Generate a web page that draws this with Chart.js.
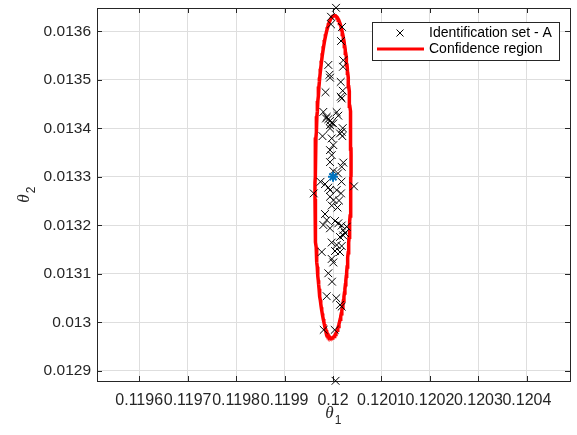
<!DOCTYPE html>
<html>
<head>
<meta charset="utf-8">
<script src="https://cdn.jsdelivr.net/npm/chart.js@4/dist/chart.umd.min.js"></script>
<style>
  html, body { margin: 0; padding: 0; background: #ffffff; }
  #wrap { width: 577px; height: 435px; }
</style>
</head>
<body>
<div id="wrap"><canvas id="chart" width="577" height="435"></canvas></div>
<script>
// Identified parameter pairs (theta1, theta2)
const theta1 = [
  0.1200062, 0.1199959, 0.1199959, 0.1200186, 0.1200165, 0.1200212, 0.1200206, 0.1199903,
  0.1199928, 0.1199938, 0.1200159, 0.1199845, 0.1200200, 0.1200159, 0.1200179, 0.1199800,
  0.1200076, 0.1200109, 0.1199870, 0.1199903, 0.1199938, 0.1199856, 0.1199938, 0.1200006,
  0.1200200, 0.1199973, 0.1199938, 0.1200179, 0.1199783, 0.1199973, 0.1200144, 0.1200192,
  0.1200006, 0.1199938, 0.1199973, 0.1199938, 0.1200212, 0.1200179, 0.1200006, 0.1200103,
  0.1199742, 0.1199835, 0.1199903, 0.1199938, 0.1200175, 0.1200433, 0.1199602, 0.1200076,
  0.1200165, 0.1199938, 0.1200010, 0.1200124, 0.1199973, 0.1200093, 0.1199835, 0.1199870,
  0.1200041, 0.1200109, 0.1200179, 0.1199800, 0.1200282, 0.1199938, 0.1200212, 0.1200247,
  0.1200212, 0.1200144, 0.1199973, 0.1200076, 0.1200179, 0.1200144, 0.1199767, 0.1200041,
  0.1199973, 0.1200006, 0.1199903, 0.1199979, 0.1199870, 0.1200068, 0.1200144, 0.1200179,
  0.1199808, 0.1200035, 0.1200052
];
const theta2 = [
  0.0136484, 0.0136299, 0.0136144, 0.0136089, 0.0135800, 0.0135403, 0.0135269, 0.0135306,
  0.0135104, 0.0135043, 0.0134956, 0.0134744, 0.0134775, 0.0134651, 0.0134614, 0.0134338,
  0.0134332, 0.0134260, 0.0134236, 0.0134188, 0.0134153, 0.0134203, 0.0134065, 0.0134100,
  0.0134003, 0.0134112, 0.0133997, 0.0133927, 0.0133838, 0.0133791, 0.0133894, 0.0133838,
  0.0133653, 0.0133550, 0.0133447, 0.0133303, 0.0133293, 0.0133206, 0.0133118, 0.0133070,
  0.0132897, 0.0132850, 0.0132778, 0.0132726, 0.0132901, 0.0132803, 0.0132658, 0.0132726,
  0.0132658, 0.0132588, 0.0132520, 0.0132510, 0.0132407, 0.0132366, 0.0132232, 0.0132109,
  0.0132088, 0.0132041, 0.0131995, 0.0132006, 0.0131971, 0.0131938, 0.0131903, 0.0131841,
  0.0131790, 0.0131759, 0.0131645, 0.0131594, 0.0131573, 0.0131450, 0.0131450, 0.0131470,
  0.0131306, 0.0131234, 0.0131011, 0.0130838, 0.0130538, 0.0130497, 0.0130359, 0.0130324,
  0.0129844, 0.0129844, 0.0128794
];

// Nominal parameter estimate (centre of the region)
const centreTheta1 = [0.12];
const centreTheta2 = [0.0133];

// Confidence ellipse: semi-axes and tilt (radians)
const ellipseSemiMajor = 0.0003325;
const ellipseSemiMinor = 0.0000371;
const ellipseTilt = -0.0093;

// Axis ticks
const xTickValues = [0.1196, 0.1197, 0.1198, 0.1199, 0.12, 0.1201, 0.1202, 0.1203, 0.1204];
const xTickLabels = ['0.1196', '0.1197', '0.1198', '0.1199', '0.12', '0.1201', '0.1202', '0.1203', '0.1204'];
const yTickValues = [0.0129, 0.013, 0.0131, 0.0132, 0.0133, 0.0134, 0.0135, 0.0136];
const yTickLabels = ['0.0129', '0.013', '0.0131', '0.0132', '0.0133', '0.0134', '0.0135', '0.0136'];

const legendLabels = ['Identification set - A', 'Confidence region'];

const points = theta1.map((x, i) => ({ x: x, y: theta2[i] }));
const centre = centreTheta1.map((x, i) => ({ x: x, y: centreTheta2[i] }));

// Outline of the confidence ellipse
const ellipse = [];
const nSeg = 180;
for (let k = 0; k <= nSeg; k++) {
  const t = 2 * Math.PI * k / nSeg;
  const u = ellipseSemiMinor * Math.cos(t);
  const v = ellipseSemiMajor * Math.sin(t);
  ellipse.push({
    x: centreTheta1[0] + u * Math.cos(ellipseTilt) - v * Math.sin(ellipseTilt),
    y: centreTheta2[0] + u * Math.sin(ellipseTilt) + v * Math.cos(ellipseTilt)
  });
}

const AXIS_COLOR = '#262626';
const FONT = "'Liberation Sans', Arial, Helvetica, sans-serif";

// Box around the axes with inward tick marks
const framePlugin = {
  id: 'frame',
  beforeDatasetsDraw(chart) {
    const { ctx, chartArea: a, scales } = chart;
    ctx.save();
    ctx.strokeStyle = AXIS_COLOR;
    ctx.lineWidth = 1;
    ctx.beginPath();
    const tl = 5;
    xTickValues.forEach(v => {
      const px = Math.round(scales.x.getPixelForValue(v)) + 0.5;
      ctx.moveTo(px, a.bottom); ctx.lineTo(px, a.bottom - tl);
      ctx.moveTo(px, a.top); ctx.lineTo(px, a.top + tl);
    });
    yTickValues.forEach(v => {
      const py = Math.round(scales.y.getPixelForValue(v)) + 0.5;
      ctx.moveTo(a.left, py); ctx.lineTo(a.left + tl, py);
      ctx.moveTo(a.right, py); ctx.lineTo(a.right - tl, py);
    });
    ctx.stroke();
    ctx.strokeRect(Math.round(a.left) + 0.5, Math.round(a.top) + 0.5,
                   Math.round(a.right - a.left), Math.round(a.bottom - a.top));
    ctx.restore();
  }
};

// Legend box in the upper-right corner of the axes
const legendPlugin = {
  id: 'boxLegend',
  afterDraw(chart) {
    const { ctx, chartArea: a } = chart;
    const right = a.right - 11, top = a.top + 14;
    const w = 187, h = 38;
    const left = right - w;
    ctx.save();
    ctx.fillStyle = '#ffffff';
    ctx.fillRect(left, top, w, h);
    ctx.strokeStyle = AXIS_COLOR;
    ctx.lineWidth = 1;
    ctx.strokeRect(left + 0.5, top + 0.5, w, h);

    const row1 = top + 11, row2 = top + 27;
    // x marker
    ctx.strokeStyle = '#000000';
    ctx.lineWidth = 1;
    ctx.beginPath();
    const mx = left + 28, r = 3.5;
    ctx.moveTo(mx - r, row1 - r); ctx.lineTo(mx + r, row1 + r);
    ctx.moveTo(mx - r, row1 + r); ctx.lineTo(mx + r, row1 - r);
    ctx.stroke();
    // red line
    ctx.strokeStyle = '#ff0000';
    ctx.lineWidth = 3;
    ctx.beginPath();
    ctx.moveTo(left + 5, row2); ctx.lineTo(left + 52, row2);
    ctx.stroke();

    ctx.fillStyle = '#000000';
    ctx.font = '14px ' + FONT;
    ctx.textBaseline = 'middle';
    ctx.textAlign = 'left';
    ctx.fillText(legendLabels[0], left + 57, row1);
    ctx.fillText(legendLabels[1], left + 57, row2);
    ctx.restore();
  }
};

// Axis titles: italic theta with numeric subscript
const titlePlugin = {
  id: 'axisTitles',
  afterDraw(chart) {
    const { ctx, chartArea: a } = chart;
    const cx = (a.left + a.right) / 2;
    const cy = (a.top + a.bottom) / 2;
    ctx.save();
    ctx.fillStyle = AXIS_COLOR;
    ctx.textAlign = 'center';
    ctx.textBaseline = 'alphabetic';
    // x title
    ctx.font = "italic 17px 'Liberation Serif', 'DejaVu Serif', serif";
    ctx.fillText('\u03B8', cx - 4, 418);
    ctx.font = '12px ' + FONT;
    ctx.fillText('1', cx + 4.5, 424);
    // y title
    ctx.translate(29, cy + 4);
    ctx.rotate(-Math.PI / 2);
    ctx.font = "italic 17px 'Liberation Serif', 'DejaVu Serif', serif";
    ctx.fillText('\u03B8', 0, 0);
    ctx.font = '12px ' + FONT;
    ctx.fillText('2', 8.5, 6);
    ctx.restore();
  }
};

new Chart(document.getElementById('chart'), {
  type: 'scatter',
  data: {
    datasets: [
      {
        label: 'Nominal',
        data: centre,
        pointStyle: 'star',
        pointRadius: 5,
        pointBorderWidth: 2,
        borderColor: '#0072bd',
        backgroundColor: '#0072bd',
        order: 0
      },
      {
        label: legendLabels[0],
        data: points,
        pointStyle: 'crossRot',
        pointRadius: 5.5,
        pointBorderWidth: 1,
        borderColor: '#000000',
        backgroundColor: '#000000',
        clip: false,
        order: 1
      },
      {
        label: legendLabels[1],
        type: 'line',
        data: ellipse,
        showLine: true,
        borderColor: '#ff0000',
        borderWidth: 3.5,
        pointRadius: 0,
        tension: 0,
        fill: false,
        order: 2
      }
    ]
  },
  options: {
    responsive: false,
    devicePixelRatio: 1,
    animation: false,
    events: [],
    layout: { padding: { left: 0, right: 7, top: 8, bottom: 0 } },
    plugins: {
      legend: { display: false },
      tooltip: { enabled: false }
    },
    scales: {
      x: {
        type: 'linear',
        min: 0.119513,
        max: 0.120489,
        afterBuildTicks: s => { s.ticks = xTickValues.map(v => ({ value: v })); },
        afterFit: s => { s.height = 54; s.paddingLeft = 0; s.paddingRight = 0; },
        ticks: {
          autoSkip: false,
          maxRotation: 0,
          minRotation: 0,
          padding: 10,
          color: AXIS_COLOR,
          font: { family: FONT, size: 16 },
          callback: (v, i) => xTickLabels[i]
        },
        grid: { color: '#dedede', drawTicks: false, lineWidth: 1 },
        border: { display: false }
      },
      y: {
        type: 'linear',
        min: 0.012879,
        max: 0.013648,
        afterBuildTicks: s => { s.ticks = yTickValues.map(v => ({ value: v })); },
        afterFit: s => { s.width = 97; s.paddingTop = 0; s.paddingBottom = 0; },
        ticks: {
          autoSkip: false,
          padding: 6,
          color: AXIS_COLOR,
          font: { family: FONT, size: 15.5 },
          callback: (v, i) => yTickLabels[i]
        },
        grid: { color: '#dedede', drawTicks: false, lineWidth: 1 },
        border: { display: false }
      }
    }
  },
  plugins: [framePlugin, legendPlugin, titlePlugin]
});
</script>
</body>
</html>
